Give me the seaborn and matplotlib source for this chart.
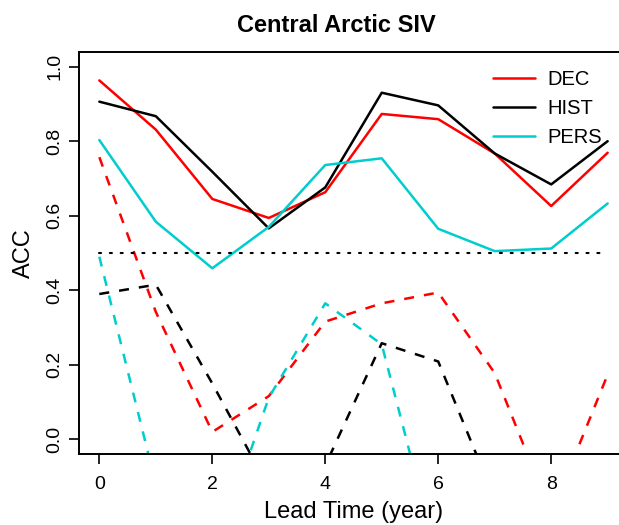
import matplotlib
matplotlib.use("Agg")
import matplotlib.pyplot as plt
import numpy as np
import pandas as pd
import seaborn as sns

sns.set_style("ticks")
plt.rcParams['font.family'] = ['Liberation Sans', 'DejaVu Sans']
plt.rcParams.update({"text.color": "black", "axes.labelcolor": "black",
                     "xtick.color": "black", "ytick.color": "black",
                     "axes.edgecolor": "black"})

# lead time in years
lead = [0, 1, 2, 3, 4, 5, 6, 7, 8, 9]

# solid lines (ACC)
dec_acc = [0.963, 0.831, 0.645, 0.594, 0.663, 0.873, 0.859, 0.767, 0.626, 0.769]
hist_acc = [0.906, 0.867, 0.718, 0.566, 0.676, 0.930, 0.896, 0.767, 0.684, 0.800]
pers_acc = [0.803, 0.584, 0.459, 0.570, 0.736, 0.754, 0.565, 0.505, 0.512, 0.633]

# dashed lines (go below the plot region and get clipped)
dec_dash = [0.757, 0.342, 0.020, 0.116, 0.316, 0.365, 0.394, 0.178, -0.20, 0.174]
hist_dash = [0.390, 0.415, 0.150, -0.13, -0.07, 0.258, 0.209, -0.16, -0.20, -0.12]
pers_dash = [0.490, -0.12, -0.33, 0.112, 0.365, 0.255, -0.33, -0.25, -0.20, -0.22]

threshold = 0.5

names = ["DEC", "HIST", "PERS"]
colors = {"DEC": "#FF0000", "HIST": "#000000", "PERS": "#00CDCD"}

solid = pd.DataFrame({"lead": lead * 3, "acc": dec_acc + hist_acc + pers_acc,
                      "model": np.repeat(names, len(lead))})
dashed = pd.DataFrame({"lead": lead * 3, "acc": dec_dash + hist_dash + pers_dash,
                       "model": np.repeat(names, len(lead))})

fig = plt.figure(figsize=(6.19, 5.25), dpi=100)
ax = fig.add_axes([79 / 619, 70.7 / 525, 549 / 619, 402.6 / 525])

for m in names:
    sns.lineplot(data=solid[solid.model == m], x="lead", y="acc", color=colors[m],
                 lw=1.8, label=m, ax=ax)
for m in names:
    sns.lineplot(data=dashed[dashed.model == m], x="lead", y="acc", color=colors[m],
                 lw=1.8, linestyle=(0, (4, 4)), ax=ax, legend=False)

ax.plot([lead[0], lead[-1]], [threshold, threshold], color="black", lw=1.5,
        linestyle=(0, (1, 4.2)), dash_capstyle="round")

ax.set_xlim(-0.36, 9.36)
ax.set_ylim(-0.04, 1.04)
ax.set_xticks([0, 2, 4, 6, 8])
ax.set_yticks([0.0, 0.2, 0.4, 0.6, 0.8, 1.0])
ax.set_yticklabels(["0.0", "0.2", "0.4", "0.6", "0.8", "1.0"], rotation=90, va="center")
ax.tick_params(axis="both", labelsize=14, length=7.5, width=1.2, color="black")
ax.tick_params(axis="x", pad=8)
ax.tick_params(axis="y", pad=4)
for s in ax.spines.values():
    s.set_linewidth(1.4)
    s.set_color("black")

ax.set_xlabel("Lead Time (year)", fontsize=17, labelpad=6)
ax.set_ylabel("ACC", fontsize=17, labelpad=8)
ax.set_title("Central Arctic SIV", fontsize=17, fontweight="bold", x=(336 - 79) / 549, pad=14)

ax.legend(loc="upper left", bbox_to_anchor=(493 / 619, 1 - 70 / 525), bbox_transform=fig.transFigure,
          frameon=False, fontsize=14.5, handlelength=2.1, handletextpad=0.6, labelspacing=0.5,
          borderpad=0, borderaxespad=0)

plt.savefig("out.png", dpi=100)
